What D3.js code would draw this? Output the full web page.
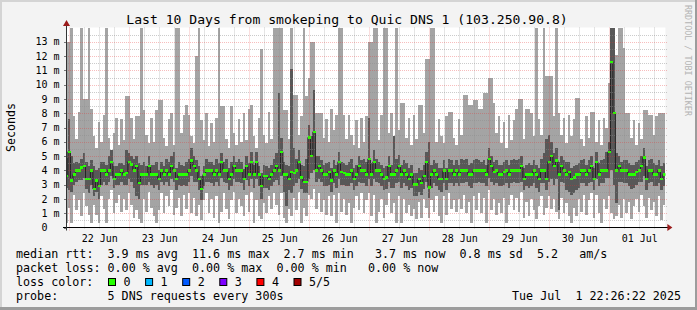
<!DOCTYPE html>
<html>
<head>
<meta charset="utf-8">
<script src="https://cdn.jsdelivr.net/npm/d3@7"></script>
<style>
  html, body { margin: 0; padding: 0; background: #f3f3f3; }
  svg { display: block; }
  text { font-family: "DejaVu Sans Mono", monospace; fill: #000; }
</style>
</head>
<body>
<svg id="chart" width="697" height="310"></svg>
<script>
// ---- data (ms), one value per hour, oldest first ----
const endTime = new Date(2025, 6, 1, 22, 26, 22);
const title = 'Last 10 Days from smokeping to Quic DNS 1 (103.250.90.8)';

const median = [
  3.6, 5.3, 3.3, 3.7, 4.0, 4.0, 4.2, 4.3, 3.4, 3.4, 4.0, 2.7,
  3.3, 2.9, 4.0, 4.0, 3.7, 4.0, 4.6, 3.4, 3.7, 3.7, 4.0, 3.7,
  3.8, 4.6, 4.4, 4.0, 4.3, 3.1, 3.7, 3.7, 3.7, 4.3, 3.7, 3.7,
  3.7, 3.4, 4.0, 3.7, 4.0, 3.7, 4.3, 4.0, 3.4, 3.7, 3.7, 3.7,
  3.7, 4.0, 4.7, 4.3, 4.0, 3.4, 2.7, 3.7, 4.0, 4.0, 4.0, 3.7,
  4.0, 3.7, 4.6, 4.0, 4.0, 3.4, 3.7, 4.3, 4.0, 4.0, 4.0, 3.4,
  4.3, 3.7, 4.6, 3.7, 4.6, 3.7, 2.9, 3.6, 3.6, 3.4, 3.7, 4.0,
  4.3, 4.0, 5.3, 3.7, 3.7, 3.4, 3.9, 3.8, 4.0, 4.6, 3.5, 3.2,
  3.2, 6.3, 5.0, 6.7, 4.0, 4.3, 4.0, 3.7, 3.7, 3.9, 3.3, 4.0,
  3.7, 4.6, 3.9, 3.8, 3.7, 3.7, 4.0, 3.4, 3.7, 4.3, 4.0, 4.0,
  3.7, 4.8, 3.7, 4.6, 4.0, 4.0, 3.7, 3.4, 3.5, 4.3, 3.7, 3.7,
  4.0, 4.3, 3.7, 4.0, 3.7, 3.4, 3.7, 3.0, 3.0, 3.4, 3.1, 3.6,
  4.6, 2.8, 3.7, 4.0, 3.7, 3.4, 3.4, 4.0, 3.4, 4.0, 4.0, 3.7,
  4.0, 3.7, 4.0, 4.0, 4.0, 3.7, 3.7, 4.0, 4.0, 4.0, 4.0, 4.0,
  3.7, 4.8, 4.3, 3.9, 4.0, 3.7, 3.7, 3.9, 4.0, 3.7, 4.0, 4.0,
  4.0, 4.0, 4.3, 3.4, 3.7, 3.7, 3.7, 4.0, 3.7, 3.4, 4.0, 4.0,
  3.4, 4.6, 5.0, 4.3, 4.7, 3.7, 4.3, 4.0, 3.7, 3.9, 3.4, 3.5,
  3.7, 3.7, 4.0, 4.0, 3.7, 4.0, 4.3, 3.4, 4.6, 3.7, 4.0, 4.0,
  4.0, 5.3, 11.6, 8.0, 4.0, 4.3, 4.0, 4.0, 4.0, 3.7, 3.7, 3.7,
  3.9, 4.0, 4.3, 4.9, 3.4, 4.0, 4.0, 3.7, 3.7, 4.0, 3.4, 3.7
];

// ping 4 of 5 (top of dark smoke)
const ping4 = [
  4.9, 7.6, 5.0, 4.5, 4.6, 4.5, 4.8, 5.2, 4.6, 4.3, 4.7, 4.3,
  4.0, 4.2, 4.6, 4.6, 4.4, 5.0, 5.4, 4.3, 4.3, 4.5, 4.5, 4.4,
  5.4, 5.2, 5.0, 4.8, 5.0, 4.5, 4.4, 4.6, 4.3, 5.0, 4.4, 4.4,
  4.6, 4.0, 4.6, 4.3, 4.8, 4.6, 5.0, 5.3, 4.2, 4.6, 4.4, 4.3,
  4.6, 4.8, 5.6, 5.0, 4.7, 4.3, 3.6, 4.3, 4.8, 4.6, 4.6, 4.4,
  4.8, 4.5, 5.2, 4.6, 4.8, 4.2, 4.6, 5.0, 4.6, 4.8, 4.6, 4.1,
  5.0, 4.5, 5.3, 4.4, 5.3, 4.3, 3.8, 4.4, 4.3, 4.2, 4.4, 4.8,
  5.2, 9.4, 6.3, 4.6, 4.4, 4.3, 11.1, 5.6, 4.8, 5.4, 4.4, 4.3,
  4.8, 7.2, 6.4, 9.6, 5.0, 5.0, 4.7, 4.4, 4.5, 4.6, 4.2, 4.7,
  4.4, 5.3, 4.6, 4.5, 4.4, 4.6, 4.8, 4.2, 4.4, 5.0, 4.7, 4.8,
  4.6, 7.7, 4.5, 5.4, 4.8, 4.6, 4.4, 4.2, 4.3, 5.0, 4.4, 6.4,
  4.8, 5.1, 4.4, 4.7, 4.5, 4.2, 4.4, 3.8, 3.8, 4.2, 4.0, 4.4,
  5.3, 6.0, 4.4, 4.7, 4.5, 4.2, 4.2, 4.7, 4.2, 4.8, 4.7, 4.4,
  4.7, 4.4, 4.8, 4.7, 4.8, 4.4, 4.5, 4.7, 4.8, 4.7, 4.6, 4.7,
  4.4, 5.6, 5.0, 4.6, 4.7, 4.4, 4.4, 4.6, 4.7, 4.4, 4.7, 4.8,
  4.7, 4.8, 5.0, 4.2, 4.4, 4.5, 4.4, 4.7, 4.4, 4.2, 4.8, 5.2,
  6.2, 6.5, 6.0, 5.2, 5.6, 4.6, 5.0, 4.7, 4.6, 4.6, 4.2, 4.3,
  4.4, 4.5, 4.7, 4.8, 4.4, 4.7, 5.0, 4.2, 5.3, 4.5, 4.7, 4.8,
  5.3, 6.0, 14.5, 14.5, 5.2, 5.0, 4.6, 4.7, 4.7, 4.5, 4.4, 4.4,
  4.6, 4.7, 5.0, 5.6, 4.3, 4.7, 4.8, 4.5, 4.4, 4.7, 4.3, 4.5
];

// ping 2 of 5 (bottom of dark smoke)
const ping2 = [
  2.8, 2.6, 2.5, 3.0, 3.2, 3.3, 3.3, 3.5, 2.7, 2.4, 3.0, 2.2,
  2.5, 2.0, 3.0, 3.2, 3.0, 3.2, 3.6, 2.8, 3.0, 3.0, 3.2, 3.0,
  3.0, 3.4, 3.2, 2.8, 2.2, 2.0, 3.0, 3.0, 3.0, 3.2, 3.0, 2.8,
  3.0, 2.6, 3.2, 3.0, 3.2, 2.9, 3.4, 3.2, 2.6, 3.0, 2.9, 3.0,
  2.9, 3.2, 3.6, 3.2, 3.2, 2.6, 1.9, 2.9, 3.2, 3.2, 3.1, 2.9,
  3.2, 2.9, 3.5, 3.2, 3.1, 2.6, 2.9, 3.4, 3.2, 3.2, 3.1, 2.6,
  3.3, 2.9, 3.4, 2.8, 3.4, 2.9, 2.0, 2.8, 2.8, 2.6, 2.9, 3.2,
  3.3, 3.0, 3.6, 2.5, 1.5, 2.6, 2.4, 2.9, 3.1, 3.4, 2.7, 2.4,
  2.4, 3.4, 3.8, 4.0, 3.2, 3.4, 3.2, 2.9, 2.9, 3.0, 2.5, 3.1,
  2.8, 3.4, 3.0, 3.0, 2.9, 2.9, 3.1, 2.6, 2.9, 3.2, 3.1, 3.1,
  2.9, 3.4, 2.9, 3.4, 3.2, 3.1, 2.9, 2.6, 2.7, 3.2, 2.8, 2.8,
  3.1, 3.2, 2.8, 3.1, 2.9, 2.6, 2.8, 2.2, 2.2, 2.5, 2.3, 2.7,
  3.2, 2.1, 2.8, 3.1, 2.9, 2.6, 2.5, 3.1, 2.6, 3.1, 3.1, 2.9,
  3.1, 2.9, 3.1, 3.1, 3.2, 2.9, 2.8, 3.1, 3.1, 3.2, 3.1, 3.1,
  2.9, 3.5, 3.2, 3.0, 3.1, 2.9, 2.9, 3.0, 3.1, 2.8, 3.1, 3.2,
  3.1, 3.1, 3.2, 2.6, 2.9, 2.8, 2.9, 3.1, 2.8, 2.5, 3.1, 3.1,
  2.6, 3.2, 3.4, 3.0, 3.4, 1.2, 3.2, 3.1, 2.6, 2.5, 2.3, 2.4,
  2.6, 2.8, 3.1, 3.1, 2.9, 3.1, 3.2, 2.6, 3.4, 2.9, 3.1, 3.1,
  3.5, 3.5, 4.0, 3.0, 1.7, 3.2, 3.2, 3.1, 3.1, 2.9, 2.7, 2.8,
  3.0, 3.2, 3.2, 3.6, 2.6, 3.1, 3.2, 2.9, 2.9, 3.1, 2.6, 2.9
];

// ping 5 of 5 (max, top of light smoke; values above 14 run off the top)
const ping5 = [
  13.0, 13.0, 14.5, 7.8, 6.2, 8.1, 14.5, 9.0, 9.0, 14.5, 8.3, 6.4,
  5.6, 7.4, 6.0, 7.9, 14.5, 6.3, 5.4, 6.6, 7.7, 5.8, 7.6, 6.1,
  9.2, 9.2, 7.7, 6.2, 7.8, 7.8, 14.5, 8.2, 6.5, 5.9, 7.7, 6.0,
  8.2, 8.9, 8.9, 6.3, 5.7, 7.6, 8.0, 5.8, 14.5, 14.5, 6.6, 7.9,
  8.6, 7.9, 6.4, 5.9, 12.0, 14.5, 7.5, 6.1, 8.0, 5.7, 7.3, 6.0,
  7.7, 14.5, 8.5, 8.5, 6.2, 5.6, 8.5, 6.6, 5.8, 7.6, 6.0, 8.0,
  6.1, 8.3, 8.6, 6.4, 5.6, 7.7, 12.5, 6.5, 5.9, 8.1, 6.2, 14.5,
  14.5, 14.5, 14.5, 8.2, 8.2, 6.2, 14.5, 9.3, 9.3, 6.5, 7.8, 14.5,
  9.2, 10.5, 13.0, 13.0, 8.0, 8.0, 8.0, 6.3, 7.6, 6.0, 8.3, 6.8,
  7.9, 14.5, 14.5, 7.9, 6.2, 7.9, 6.5, 5.8, 7.5, 5.6, 7.7, 6.0,
  7.8, 13.0, 13.0, 14.5, 14.5, 6.1, 7.9, 14.5, 14.5, 6.6, 8.0, 6.0,
  14.5, 6.8, 8.7, 8.7, 6.3, 7.7, 5.8, 7.9, 6.2, 8.6, 8.6, 6.6,
  11.8, 11.8, 14.5, 14.5, 6.0, 7.6, 6.4, 5.9, 7.8, 8.1, 8.1, 6.3,
  5.8, 7.6, 6.5, 9.3, 9.3, 8.6, 8.6, 8.9, 8.9, 8.3, 8.3, 9.4,
  9.4, 10.5, 10.5, 8.7, 6.6, 7.8, 5.9, 7.4, 5.6, 7.9, 6.1, 7.5,
  8.3, 9.0, 9.0, 6.2, 8.3, 8.3, 8.0, 6.4, 14.5, 7.6, 6.5, 14.5,
  10.6, 10.6, 10.6, 7.8, 14.5, 8.0, 6.5, 7.7, 5.9, 7.9, 6.4, 7.6,
  9.1, 9.1, 6.2, 5.7, 7.8, 6.3, 8.1, 8.1, 6.0, 7.5, 5.8, 7.7,
  7.0, 10.1, 14.5, 14.5, 12.1, 14.5, 14.5, 12.6, 8.0, 8.0, 6.3, 7.5,
  5.8, 7.3, 6.2, 8.2, 8.2, 7.9, 7.9, 6.5, 7.8, 8.0, 8.0, 8.0
];

// ping 1 of 5 (min, bottom of light smoke)
const ping1 = [
  0.3, 1.4, 0.3, 2.3, 1.2, 1.9, 0.8, 2.4, 1.5, 0.9, 0.3, 1.6,
  0.9, 0.3, 2.2, 1.3, 0.3, 2.0, 2.6, 1.0, 1.7, 2.3, 1.1, 2.0,
  1.2, 2.4, 1.6, 0.7, 1.2, 0.6, 0.3, 2.0, 1.1, 2.5, 1.4, 0.8,
  0.3, 1.2, 2.4, 1.0, 2.2, 1.5, 2.6, 0.9, 1.4, 2.1, 0.8, 2.3,
  1.3, 2.4, 1.0, 2.1, 0.8, 1.6, 0.5, 1.9, 2.4, 1.0, 2.0, 0.7,
  2.2, 0.3, 1.1, 2.4, 1.3, 0.6, 1.9, 2.5, 1.0, 2.0, 1.5, 0.8,
  2.3, 1.1, 2.5, 0.3, 1.9, 0.8, 0.6, 1.7, 1.0, 2.2, 1.3, 2.4,
  1.6, 0.9, 2.4, 0.7, 0.3, 1.3, 0.8, 2.1, 1.2, 2.5, 0.3, 1.4,
  0.8, 2.3, 2.0, 2.7, 1.3, 2.4, 1.1, 1.9, 0.9, 2.2, 0.8, 2.3,
  0.3, 2.4, 1.1, 2.0, 0.9, 1.7, 0.3, 1.4, 2.2, 1.2, 2.4, 1.0,
  1.9, 2.4, 0.8, 2.3, 0.3, 1.1, 2.0, 0.7, 1.6, 2.4, 1.0, 1.7,
  0.3, 2.2, 0.3, 2.0, 1.0, 1.6, 0.8, 1.3, 0.6, 1.8, 0.7, 2.0,
  1.4, 0.7, 1.9, 1.1, 2.2, 0.8, 0.3, 2.2, 0.9, 2.4, 1.3, 1.9,
  1.1, 2.0, 1.3, 2.3, 1.0, 1.8, 0.3, 2.2, 1.2, 2.4, 1.0, 2.1,
  0.3, 2.6, 1.2, 2.0, 0.9, 1.7, 1.0, 2.1, 0.3, 1.6, 2.3, 1.2,
  2.1, 1.1, 2.5, 0.7, 1.8, 0.8, 2.0, 1.2, 0.6, 1.5, 2.2, 0.9,
  1.4, 2.2, 1.3, 2.0, 1.1, 0.6, 2.1, 1.0, 1.7, 0.8, 0.3, 1.4,
  0.8, 2.0, 1.1, 2.3, 0.9, 1.9, 2.4, 0.7, 2.3, 1.0, 0.3, 2.0,
  1.3, 2.2, 1.0, 0.6, 0.8, 1.6, 0.7, 2.0, 1.0, 1.8, 0.6, 1.5,
  2.0, 1.1, 2.3, 1.5, 0.7, 2.1, 1.2, 1.8, 0.8, 2.2, 0.5, 1.6
];

const yTicks = [0, 1, 2, 3, 4, 5, 6, 7, 8, 9, 10, 11, 12, 13];
const lossLabels = ['0', '1', '2', '3', '4', '5/5'];
const lossColors = ['#26ff00', '#00b8ff', '#0059ff', '#7e00ff', '#ff0000', '#a10000'];
const legendLines = [
  'median rtt:  3.9 ms avg  11.6 ms max  2.7 ms min   3.7 ms now  0.8 ms sd  5.2   am/s',
  'packet loss: 0.00 % avg  0.00 % max  0.00 % min   0.00 % now',
  'loss color:',
  'probe:       5 DNS requests every 300s'
];
const stamp = 'Tue Jul  1 22:26:22 2025';

// ---- layout ----
const W = 697, H = 310;
const plot = { left: 65.4, right: 665.4, top: 27.5, bottom: 227.5 };
const charW = 7.04;   // legend font cell width
const N = median.length;
const startTime = new Date(+endTime - N * 3600e3);
const times = d3.range(N + 1).map(i => new Date(+startTime + i * 3600e3));

const rows = median.map((m, i) => ({
  t0: times[i], t1: times[i + 1], med: m,
  p1: ping1[i], p2: ping2[i], p4: ping4[i], p5: ping5[i]
}));

const x = d3.scaleTime().domain([startTime, endTime]).range([plot.left, plot.right]);
const y = d3.scaleLinear().domain([0, 14]).range([plot.bottom, plot.top]);
const px = v => Math.round(v) + 0.5;

// split a fixed-width line into words placed on their character columns
const tokens = s => Array.from(s.matchAll(/\S+/g), m => ({ col: m.index, text: m[0] }));

const svg = d3.select('#chart');

// background + frame shading
svg.append('rect').attr('width', W).attr('height', H).attr('fill', '#f3f3f3');
svg.append('rect').attr('width', W).attr('height', 2).attr('fill', '#d4d4d4');
svg.append('rect').attr('width', 2).attr('height', H).attr('fill', '#d4d4d4');
svg.append('rect').attr('y', H - 3).attr('width', W).attr('height', 3).attr('fill', '#9c9c9c');
svg.append('rect').attr('x', W - 2).attr('width', 2).attr('height', H).attr('fill', '#9c9c9c');

// canvas
svg.append('rect')
  .attr('x', 66).attr('y', plot.top)
  .attr('width', plot.right - 66).attr('height', plot.bottom - plot.top)
  .attr('fill', '#fff');

svg.append('clipPath').attr('id', 'clip')
  .append('rect')
  .attr('x', 66).attr('y', 28)
  .attr('width', plot.right - 66).attr('height', plot.bottom - 28);

const g = svg.append('g').attr('clip-path', 'url(#clip)');

const bar = (lo, hi, color) => g.append('g')
  .attr('fill', color)
  .attr('shape-rendering', 'crispEdges')
  .selectAll('rect')
  .data(rows)
  .join('rect')
    .attr('x', d => x(d.t0))
    .attr('width', d => x(d.t1) - x(d.t0))
    .attr('y', d => y(d[hi]))
    .attr('height', d => y(d[lo]) - y(d[hi]));

// smoke: light = ping1..ping5, dark = ping2..ping4
bar('p1', 'p5', '#a4a4a4');
bar('p2', 'p4', '#585858');

// median: dark step connectors, green level marks
const medLine = d3.line()
  .curve(d3.curveStepAfter)
  .x(d => x(d.t))
  .y(d => y(d.v));
const stepPts = rows.map(d => ({ t: d.t0, v: d.med }))
  .concat([{ t: endTime, v: median[N - 1] }]);

g.append('path')
  .attr('d', medLine(stepPts))
  .attr('fill', 'none')
  .attr('stroke', '#202020')
  .attr('stroke-width', 1);

g.append('g')
  .attr('fill', lossColors[0])
  .attr('shape-rendering', 'crispEdges')
  .selectAll('rect')
  .data(rows)
  .join('rect')
    .attr('x', d => x(d.t0))
    .attr('width', d => x(d.t1) - x(d.t0) + 0.5)
    .attr('y', d => y(d.med) - 1.2)
    .attr('height', 2.4);

// grid (drawn over the data like rrdtool)
const grid = svg.append('g').attr('fill', 'none').attr('stroke-dasharray', '1,1');
const minorY = d3.range(0.5, 14, 1);
const majorY = d3.range(1, 14, 1);
const hours6 = d3.timeHour.every(6).range(startTime, endTime).filter(d => d.getHours() !== 0);
const days = d3.timeDay.range(startTime, endTime);
const minorColor = 'rgba(140,140,140,0.45)';
const majorColor = 'rgba(230,50,50,0.32)';

grid.selectAll('.hmin').data(minorY).join('line')
  .attr('x1', 66).attr('x2', plot.right + 2)
  .attr('y1', d => px(y(d))).attr('y2', d => px(y(d)))
  .attr('stroke', minorColor);
grid.selectAll('.vmin').data(hours6).join('line')
  .attr('x1', d => px(x(d))).attr('x2', d => px(x(d)))
  .attr('y1', plot.top).attr('y2', plot.bottom + 2)
  .attr('stroke', minorColor);
grid.selectAll('.hmaj').data(majorY).join('line')
  .attr('x1', 66).attr('x2', plot.right + 2)
  .attr('y1', d => px(y(d))).attr('y2', d => px(y(d)))
  .attr('stroke', majorColor);
grid.selectAll('.vmaj').data(days).join('line')
  .attr('x1', d => px(x(d))).attr('x2', d => px(x(d)))
  .attr('y1', plot.top).attr('y2', plot.bottom + 3)
  .attr('stroke', majorColor);

// y axis labels + ticks
svg.append('g')
  .attr('transform', 'translate(66.5,0)')
  .call(d3.axisLeft(y).tickValues(yTicks).tickSize(3).tickPadding(4)
    .tickFormat(d => d === 0 ? '0' : d + ' m'))
  .call(a => a.select('.domain').remove())
  .call(a => a.selectAll('line').attr('stroke', '#777').attr('shape-rendering', 'crispEdges'))
  .call(a => a.selectAll('text').attr('font-family', '"DejaVu Sans Mono", monospace')
    .attr('font-size', 10).attr('fill', '#000')
    .attr('dx', d => d === 0 ? -12 : 0));

// x axis labels at noon of each day
const noons = days.map(d => d3.timeHour.offset(d, 12))
  .filter(d => d > startTime && d < endTime);
svg.append('g')
  .attr('transform', `translate(0,${plot.bottom})`)
  .call(d3.axisBottom(x).tickValues(noons).tickSize(0).tickPadding(7)
    .tickFormat(d3.timeFormat('%d %b')))
  .call(a => a.select('.domain').remove())
  .call(a => a.selectAll('text').attr('font-family', '"DejaVu Sans Mono", monospace')
    .attr('font-size', 10).attr('fill', '#000'));

// axis lines + arrows
svg.append('line')
  .attr('x1', 63).attr('x2', plot.right + 3)
  .attr('y1', plot.bottom).attr('y2', plot.bottom)
  .attr('stroke', '#000');
svg.append('line')
  .attr('x1', 66.5).attr('x2', 66.5)
  .attr('y1', plot.bottom + 3).attr('y2', 24)
  .attr('stroke', '#333');
svg.append('path')
  .attr('d', `M${plot.right + 2},${plot.bottom - 3.5} L${plot.right + 7},${plot.bottom} L${plot.right + 2},${plot.bottom + 3.5} Z`)
  .attr('fill', '#9b1b1b');
svg.append('path')
  .attr('d', `M63,26 L66.5,20 L70,26 Z`)
  .attr('fill', '#9b1b1b');

// title, axis title, watermark
svg.append('text')
  .attr('x', 347).attr('y', 23.5)
  .attr('text-anchor', 'middle')
  .attr('font-size', 13.1)
  .text(title);

svg.append('text')
  .attr('transform', `translate(14.5,${(plot.top + plot.bottom) / 2}) rotate(-90)`)
  .attr('text-anchor', 'middle')
  .attr('font-size', 11.6)
  .text('Seconds');

svg.append('text')
  .attr('transform', 'translate(684.5,5) rotate(90)')
  .attr('font-size', 8.4)
  .style('fill', '#b4b4b4')
  .text('RRDTOOL / TOBI OETIKER');

// legend
const legend = svg.append('g').attr('font-size', 11.7);
legend.selectAll('g.line').data(legendLines).join('g')
  .attr('class', 'line')
  .attr('transform', (d, i) => `translate(16,${258 + i * 14})`)
  .selectAll('text')
  .data(d => tokens(d))
  .join('text')
    .attr('x', d => d.col * charW)
    .text(d => d.text);

const swatch = legend.selectAll('g.sw').data(lossLabels).join('g')
  .attr('class', 'sw')
  .attr('transform', (d, i) => `translate(${108.5 + i * 37.1},278.5)`);
swatch.append('rect')
  .attr('width', 7).attr('height', 7)
  .attr('fill', (d, i) => lossColors[i])
  .attr('stroke', '#000');
swatch.append('text')
  .attr('x', 15).attr('y', 7.5)
  .text(d => d);

legend.append('g')
  .attr('transform', `translate(${681 - stamp.length * charW},300)`)
  .selectAll('text')
  .data(tokens(stamp))
  .join('text')
    .attr('x', d => d.col * charW)
    .text(d => d.text);
</script>
</body>
</html>
